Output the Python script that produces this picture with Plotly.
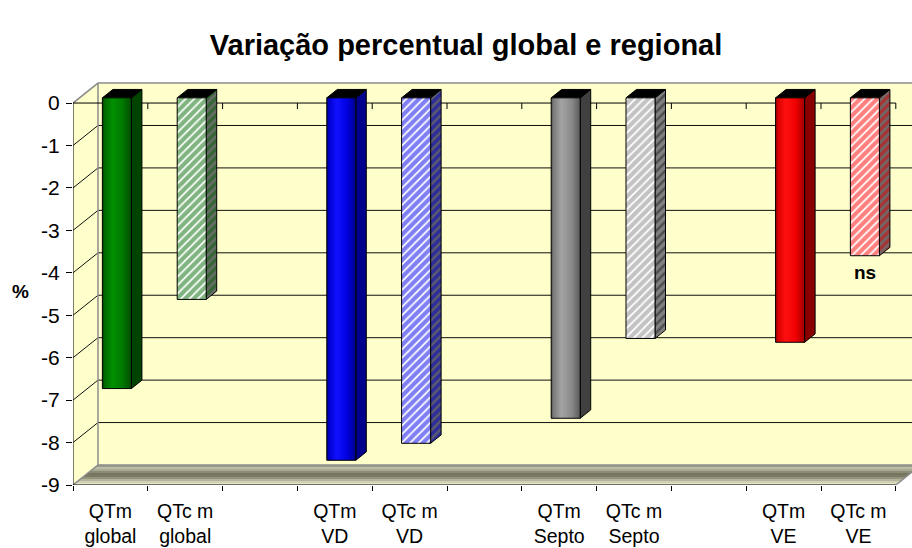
import plotly.graph_objects as go

# ---- data -------------------------------------------------------------
regions = ["global", "VD", "Septo", "VE"]
qtm_values = [-6.85, -8.54, -7.55, -5.76]      # QTm, % change
qtcm_values = [-4.75, -8.14, -5.67, -3.72]     # QTc m, % change
qtcm_notes = ["", "", "", "ns"]                # significance notes under QTc m bars
y_ticks = [0, -1, -2, -3, -4, -5, -6, -7, -8, -9]

# ---- colours per region ------------------------------------------------
face_scales = [
    [[0, "#003a00"], [0.08, "#006a00"], [0.35, "#009000"], [0.7, "#007800"], [1, "#004c00"]],
    [[0, "#00007a"], [0.08, "#0000d0"], [0.35, "#1010ff"], [0.7, "#0000e0"], [1, "#00008a"]],
    [[0, "#505050"], [0.08, "#7a7a7a"], [0.35, "#a4a4a4"], [0.7, "#8a8a8a"], [1, "#5a5a5a"]],
    [[0, "#900000"], [0.08, "#d80000"], [0.35, "#ff1010"], [0.7, "#f00000"], [1, "#a00000"]],
]
side_colors = ["#004400", "#00008c", "#404040", "#8a0000"]
hatch_colors = ["#006800", "#0000e8", "#888888", "#ff0000"]
hatch_side_fg = ["#006000", "#0000c8", "#b4b4b4", "#e00000"]
hatch_side_bg = ["#6c6c6c", "#5c5c6c", "#4c4c4c", "#6c6c6c"]

WALL = "#ffffcc"
BORDER = "#8c8c8c"
GRID = "#101010"
FONT = "Liberation Sans, Arial, sans-serif"

# ---- oblique projection geometry (data units) --------------------------
PX_U = 74.8          # px per category
PX_V = 42.44         # px per percent
DX = 25 / PX_U       # full depth shift, category units
DY = 20 / PX_V       # full depth shift, value units
D1, D2 = 0.26, 0.68  # front/back depth fraction of each column
HW = 0.194           # half column width
VMIN = -9
n_slots = len(regions) * 3 - 1

slot_labels, slot_vals, slot_kind, slot_region, slot_note = [], [], [], [], []
for r, name in enumerate(regions):
    slot_labels += ["QTm<br>" + name, "QTc m<br>" + name]
    slot_vals += [qtm_values[r], qtcm_values[r]]
    slot_kind += ["solid", "hatch"]
    slot_region += [r, r]
    slot_note += ["", qtcm_notes[r]]
    if r < len(regions) - 1:
        slot_labels.append("")
        slot_vals.append(None)
        slot_kind.append(None)
        slot_region.append(None)
        slot_note.append("")

fig = go.Figure()


def poly(xs, ys, line_color="black", width=1, **kw):
    fig.add_trace(go.Scatter(
        x=list(xs) + [xs[0]], y=list(ys) + [ys[0]], mode="lines", fill="toself",
        line=dict(color=line_color, width=width), hoverinfo="skip", showlegend=False, **kw))


def seg(xs, ys, color, width=1):
    fig.add_trace(go.Scatter(x=xs, y=ys, mode="lines", line=dict(color=color, width=width),
                             hoverinfo="skip", showlegend=False))


x_end = n_slots + DX

# back wall and left side wall
poly([DX, x_end, x_end, DX], [VMIN + DY, VMIN + DY, DY, DY], line_color=WALL, width=0, fillcolor=WALL)
poly([0, DX, DX, 0], [VMIN, VMIN + DY, DY, 0], line_color=WALL, width=0, fillcolor=WALL)

# floor, shaded in depth bands
floor_cols = ["#9c9c8c", "#bcbca8", "#aaaa94", "#8c8c76", "#76765f", "#7a7a64",
              "#94947c", "#b4b49a", "#d0d0b4", "#e4e4c8"]
nb = len(floor_cols)
for k, col in enumerate(floor_cols):
    t0 = 1 - k / nb
    t1 = 1 - (k + 1) / nb
    poly([t0 * DX, n_slots + t0 * DX, n_slots + t1 * DX, t1 * DX],
         [VMIN + t0 * DY, VMIN + t0 * DY, VMIN + t1 * DY, VMIN + t1 * DY],
         line_color=col, width=0, fillcolor=col)

# gridlines on back wall and side wall
for v in y_ticks[1:-1]:
    seg([0, DX, x_end], [v, v + DY, v + DY], GRID)

# wall borders
seg([0, DX, x_end], [0, DY, DY], BORDER, 1.5)
seg([DX, DX], [DY, VMIN + DY], BORDER, 1.5)
seg([0, DX, x_end], [VMIN, VMIN + DY, VMIN + DY], BORDER, 1.5)
seg([n_slots, n_slots + DX], [VMIN, VMIN + DY], BORDER, 1.5)

# value axis line (front) and floor front edge
seg([0, 0], [0, VMIN], "black", 1)
seg([0, n_slots], [VMIN, VMIN], "black", 1)

# category axis along zero with boundary ticks
seg([0, n_slots], [0, 0], "black", 1)
tick_h = 6 / PX_V
for b in range(1, n_slots + 1):
    seg([b, b], [0, -tick_h], "black", 1)

# columns
for i, val in enumerate(slot_vals):
    if val is None:
        continue
    r = slot_region[i]
    xl = i + 0.5 - HW
    xr = i + 0.5 + HW
    fx0, fx1 = xl + D1 * DX, xr + D1 * DX
    bx0, bx1 = xl + D2 * DX, xr + D2 * DX
    fy0, by0 = D1 * DY, D2 * DY
    fyv, byv = val + D1 * DY, val + D2 * DY

    if slot_kind[i] == "solid":
        poly([fx1, bx1, bx1, fx1], [fy0, by0, byv, fyv], fillcolor=side_colors[r])
    else:
        poly([fx1, bx1, bx1, fx1], [fy0, by0, byv, fyv], fillcolor=hatch_side_bg[r],
             fillpattern=dict(shape="/", fgcolor=hatch_side_fg[r], bgcolor=hatch_side_bg[r],
                              size=6, solidity=0.6))
    # top face
    poly([fx0, fx1, bx1, bx0], [fy0, fy0, by0, by0], fillcolor="black")
    # front face
    if slot_kind[i] == "solid":
        poly([fx0, fx1, fx1, fx0], [fy0, fy0, fyv, fyv], fillcolor=side_colors[r],
             fillgradient=dict(type="horizontal", colorscale=face_scales[r]))
    else:
        poly([fx0, fx1, fx1, fx0], [fy0, fy0, fyv, fyv], fillcolor="white",
             fillpattern=dict(shape="/", fgcolor=hatch_colors[r], bgcolor="white",
                              size=6, solidity=0.7))
    if slot_note[i]:
        fig.add_annotation(x=(fx0 + fx1) / 2, y=fyv, yshift=-17, yanchor="middle",
                           text="<b>" + slot_note[i] + "</b>", showarrow=False,
                           font=dict(family=FONT, size=19, color="black"))

fig.add_annotation(xref="paper", x=0, xanchor="right", xshift=-42, y=-4.44, yanchor="middle",
                   text="<b>%</b>", showarrow=False, font=dict(family=FONT, size=19, color="black"))

fig.update_layout(
    width=912, height=548, autosize=False,
    margin=dict(l=73, r=0, t=80, b=63),
    paper_bgcolor="white", plot_bgcolor="white",
    font=dict(family=FONT, size=19, color="black"),
    title=dict(text="<b>Variação percentual global e regional</b>", xref="container",
               x=0.511, xanchor="center", yref="container", y=0.918, yanchor="middle",
               font=dict(family=FONT, size=29, color="black")),
    showlegend=False,
)
fig.update_xaxes(
    range=[0, 839 / PX_U], showgrid=False, zeroline=False, showline=False,
    tickmode="array", tickvals=[i + 0.5 for i in range(n_slots)], ticktext=slot_labels,
    ticks="", ticklabelstandoff=12, tickfont=dict(family=FONT, size=19.5, color="black"),
    minor=dict(tickmode="linear", tick0=0, dtick=1, ticks="outside", ticklen=5,
               tickcolor="black", showgrid=False),
    fixedrange=True,
)
fig.update_yaxes(
    range=[VMIN, VMIN + 405 / PX_V], showgrid=False, zeroline=False, showline=False,
    tickmode="array", tickvals=y_ticks, ticktext=[str(t) for t in y_ticks],
    ticks="outside", ticklen=6, tickcolor="black", ticklabelstandoff=2,
    tickfont=dict(family=FONT, size=21, color="black"), fixedrange=True,
)

fig.write_html("out.html")
